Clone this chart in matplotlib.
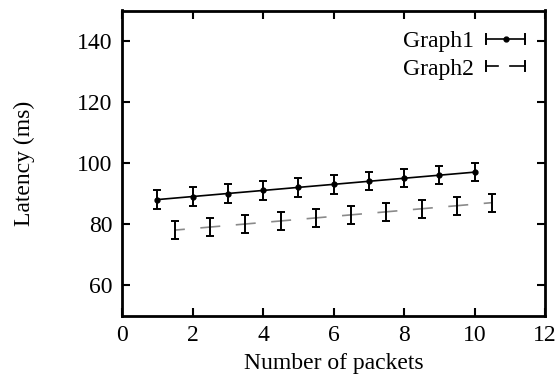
import matplotlib
matplotlib.use("Agg")
import matplotlib.pyplot as plt
from matplotlib.legend_handler import HandlerBase
from matplotlib.lines import Line2D

x1 = [1, 2, 3, 4, 5, 6, 7, 8, 9, 10]
y1 = [88, 89, 90, 91, 92, 93, 94, 95, 96, 97]
e1 = [3, 3, 3, 3, 3, 3, 3, 3, 3, 3]
x2 = [1.5, 2.5, 3.5, 4.5, 5.5, 6.5, 7.5, 8.5, 9.5, 10.5]
y2 = [78, 79, 80, 81, 82, 83, 84, 85, 86, 87]
e2 = [3, 3, 3, 3, 3, 3, 3, 3, 3, 3]
labels = ["Graph1", "Graph2"]

plt.rcParams['font.family'] = ['Liberation Serif', 'DejaVu Serif']
plt.rcParams['font.size'] = 17
plt.rcParams['lines.scale_dashes'] = False

fig = plt.figure(figsize=(5.59, 3.74), dpi=100)
ax = fig.add_axes([122/559, 1 - 315.5/374, (545-122)/559, (315.5-10.5)/374])

ax.errorbar(x1, y1, yerr=e1, color='black', lw=1.2, marker='o', ms=3.5,
            ecolor='black', elinewidth=1.4, capsize=3, capthick=1.4)
ax.plot(x2, y2, color='#8a8a8a', lw=1.2, linestyle=(7.2, (14.4, 11.2)))
ax.errorbar(x2, y2, yerr=e2, fmt='none', ecolor='black', elinewidth=1.4,
            capsize=3, capthick=1.4)

ax.set_xlim(0, 12)
ax.set_ylim(50, 150)
ax.set_xticks([0, 2, 4, 6, 8, 10, 12])
ax.set_yticks([60, 80, 100, 120, 140])
ax.tick_params(direction='in', length=6, width=1.5, top=True, right=True, labelsize=17, pad=7)
for s in ax.spines.values():
    s.set_linewidth(2)
ax.set_xlabel("Number of packets", fontsize=17, labelpad=5)
ax.set_ylabel("Latency (ms)", fontsize=17, labelpad=30)


class ErrHandler(HandlerBase):
    def __init__(self, dashed, marker):
        super().__init__()
        self.dashed = dashed
        self.marker = marker

    def create_artists(self, legend, orig_handle, xdescent, ydescent, width, height, fontsize, trans):
        yc = height / 2 - ydescent
        x0 = -xdescent
        arts = []
        if self.dashed:
            arts.append(Line2D([x0, x0 + width * 0.32], [yc, yc], color='black', lw=1.2, transform=trans))
            arts.append(Line2D([x0 + width * 0.62, x0 + width], [yc, yc], color='black', lw=1.2, transform=trans))
        else:
            arts.append(Line2D([x0, x0 + width], [yc, yc], color='black', lw=1.2, transform=trans))
        for xe in (x0, x0 + width):
            arts.append(Line2D([xe, xe], [yc - 3.5, yc + 3.5], color='black', lw=1.4, transform=trans))
        if self.marker:
            arts.append(Line2D([x0 + width / 2], [yc], marker='o', ms=3.5, color='black', transform=trans))
        return arts


h1 = Line2D([], [])
h2 = Line2D([], [])
leg = ax.legend([h1, h2], labels, loc='upper right', frameon=False,
                handler_map={h1: ErrHandler(False, True), h2: ErrHandler(True, False)},
                markerfirst=False, handlelength=1.65, handletextpad=0.5, labelspacing=0.25,
                borderaxespad=0.0, bbox_to_anchor=(0.975, 0.965), fontsize=17)

fig.savefig("out.png", dpi=100)
